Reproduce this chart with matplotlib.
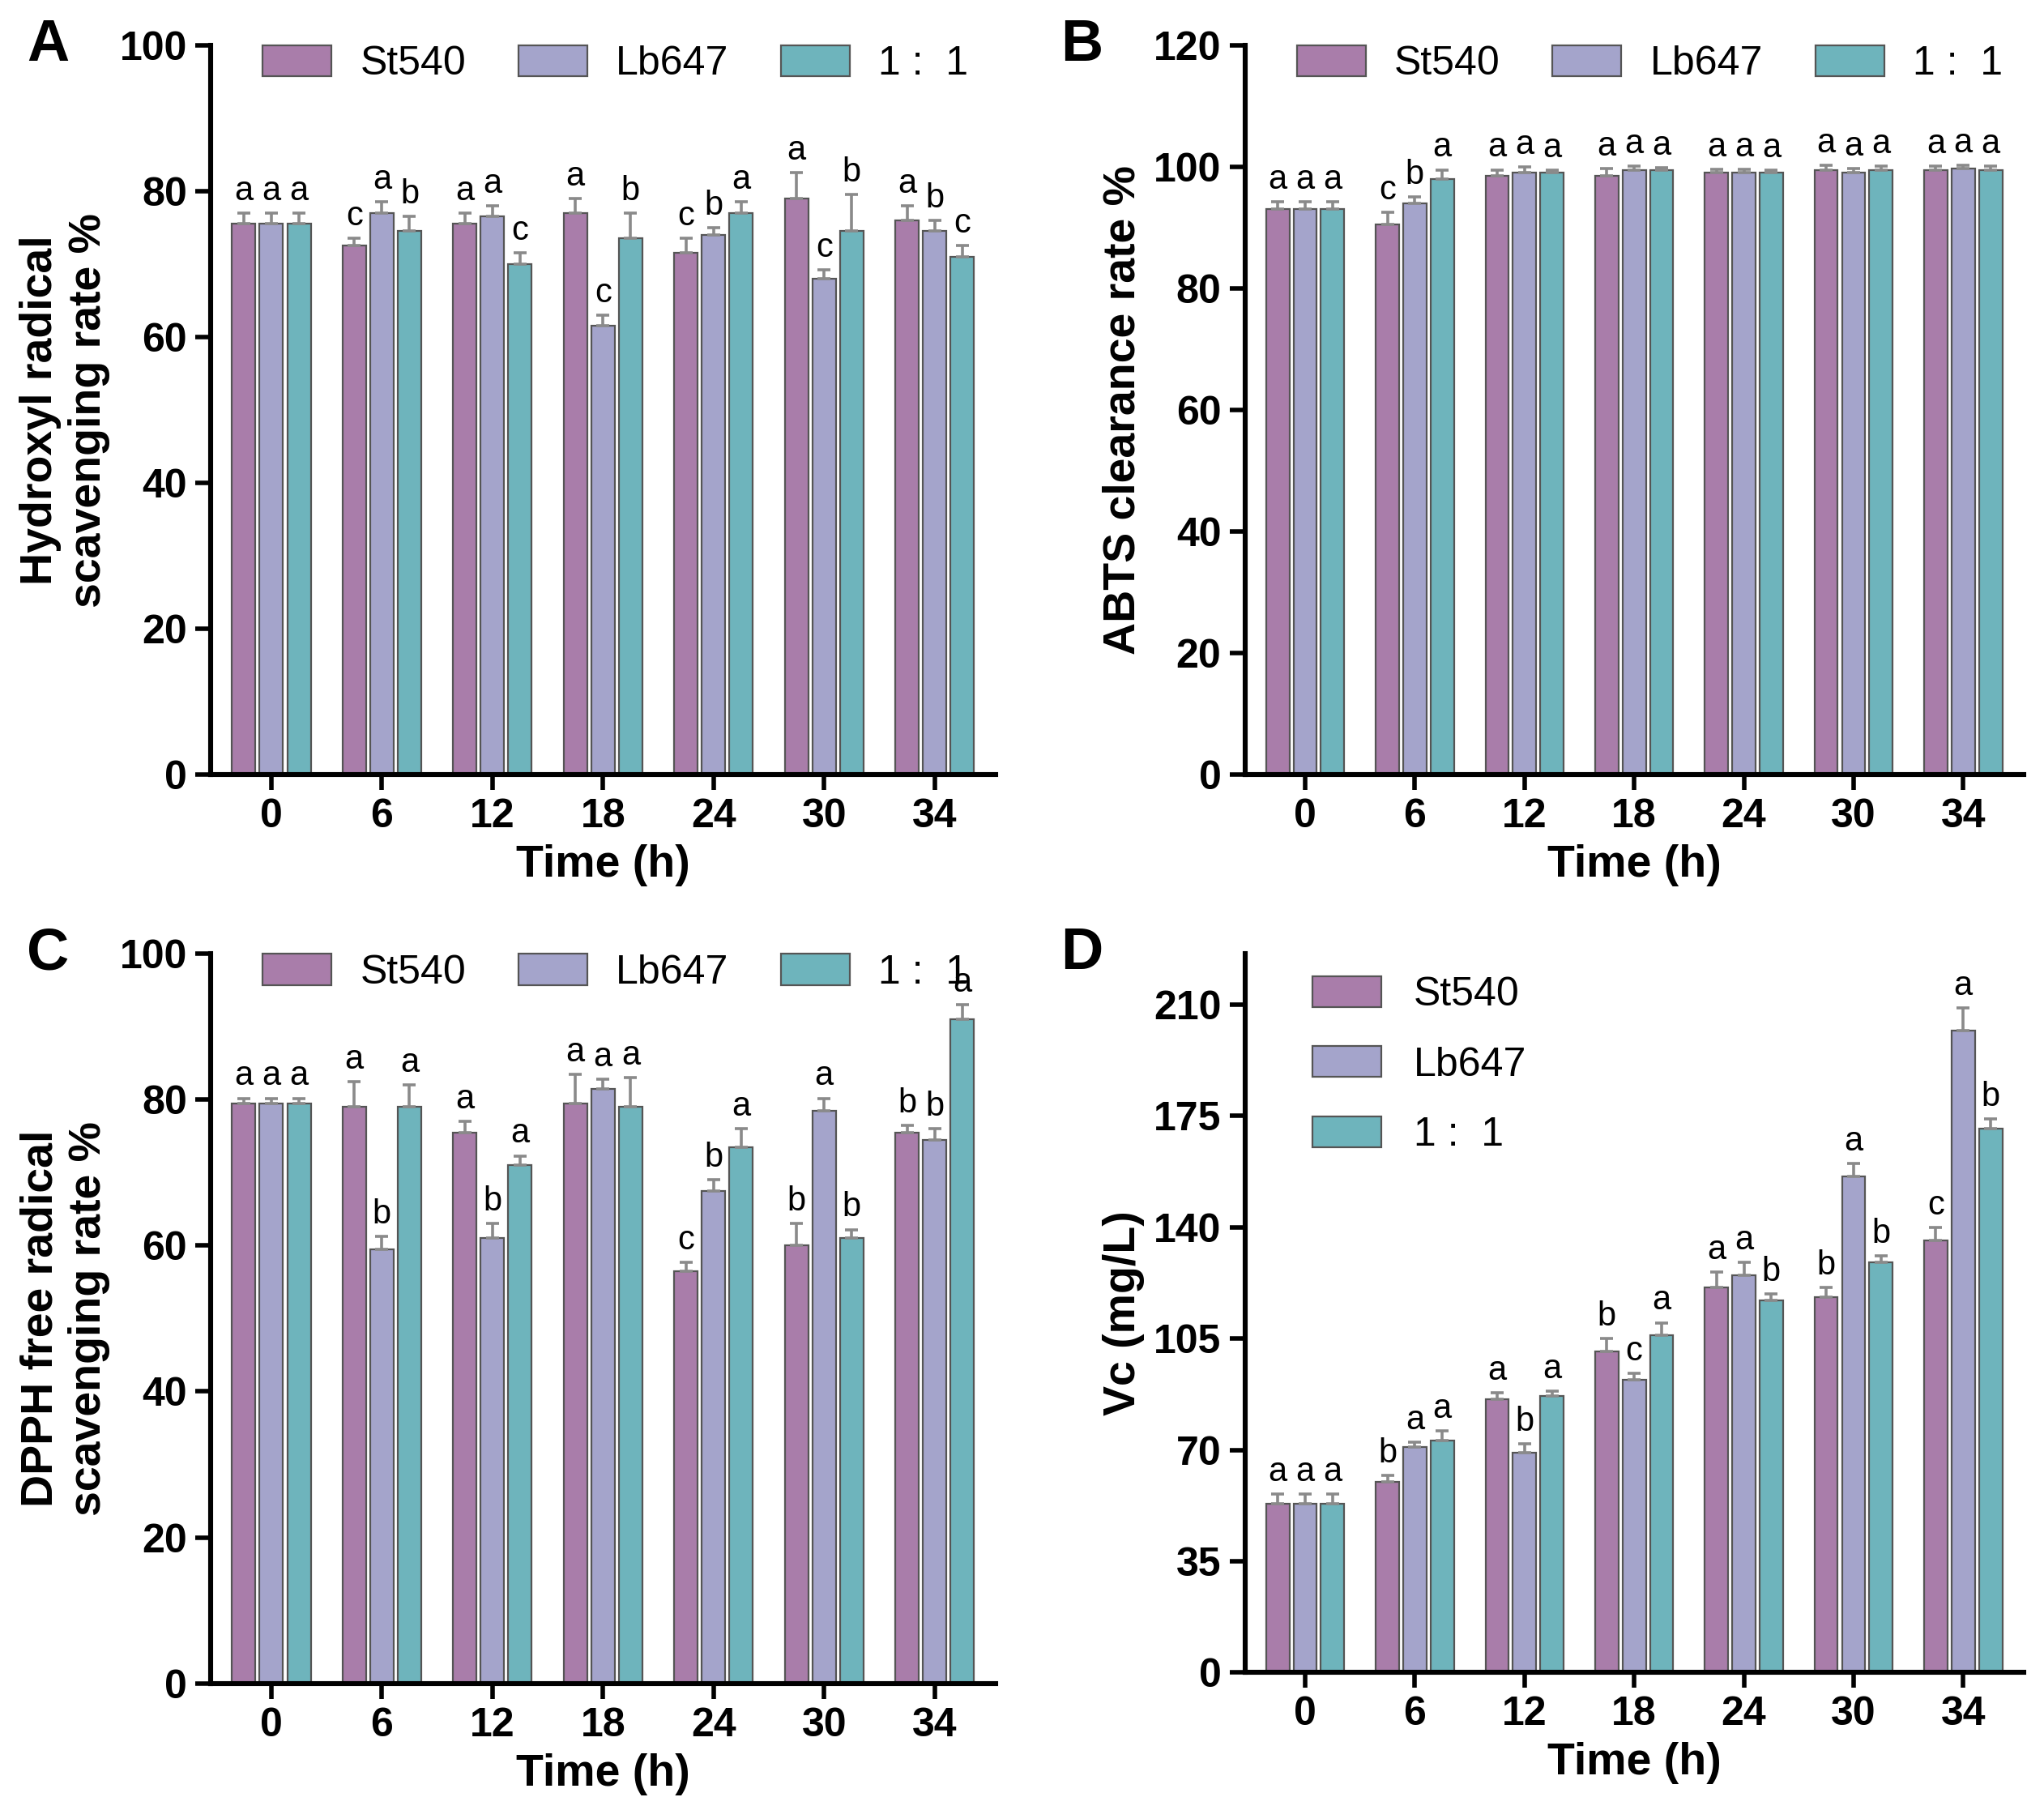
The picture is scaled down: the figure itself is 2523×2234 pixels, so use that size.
import matplotlib.pyplot as plt
import numpy as np

TIMES = ["0", "6", "12", "18", "24", "30", "34"]
SERIES = ["St540", "Lb647", "1 :  1"]
COLORS = ["#A97DAA", "#A4A4CB", "#6EB4BC"]

A_VALS = [[75.5, 72.5, 75.5, 77, 71.5, 79, 76],
          [75.5, 77, 76.5, 61.5, 74, 68, 74.5],
          [75.5, 74.5, 70, 73.5, 77, 74.5, 71]]
A_ERR = [[1.5, 1, 1.5, 2, 2, 3.5, 2],
         [1.5, 1.5, 1.5, 1.5, 1, 1.2, 1.5],
         [1.5, 2, 1.5, 3.5, 1.5, 5, 1.5]]
A_LET = [["a", "c", "a", "a", "c", "a", "a"],
         ["a", "a", "a", "c", "b", "c", "b"],
         ["a", "b", "c", "b", "a", "b", "c"]]

B_VALS = [[93, 90.5, 98.5, 98.5, 99, 99.5, 99.5],
          [93, 94, 99, 99.5, 99, 99, 99.7],
          [93, 98, 99, 99.5, 99, 99.5, 99.5]]
B_ERR = [[1.2, 2, 1, 1.2, 0.6, 0.7, 0.6],
         [1.2, 1, 1, 0.6, 0.6, 0.7, 0.5],
         [1.2, 1.5, 0.4, 0.3, 0.4, 0.6, 0.6]]
B_LET = [["a", "c", "a", "a", "a", "a", "a"],
         ["a", "b", "a", "a", "a", "a", "a"],
         ["a", "a", "a", "a", "a", "a", "a"]]

C_VALS = [[79.5, 79, 75.5, 79.5, 56.5, 60, 75.5],
          [79.5, 59.5, 61, 81.5, 67.5, 78.5, 74.5],
          [79.5, 79, 71, 79, 73.5, 61, 91]]
C_ERR = [[0.7, 3.5, 1.5, 4, 1.2, 3, 1],
         [0.7, 1.8, 2, 1.3, 1.5, 1.7, 1.5],
         [0.7, 3, 1.3, 4, 2.5, 1.2, 2]]
C_LET = [["a", "a", "a", "a", "c", "b", "b"],
         ["a", "b", "b", "a", "b", "a", "b"],
         ["a", "a", "a", "a", "a", "b", "a"]]

D_VALS = [[53, 60, 86, 101, 121, 118, 136],
          [53, 71, 69, 92, 125, 156, 202],
          [53, 73, 87, 106, 117, 129, 171]]
D_ERR = [[3, 2, 2, 4, 5, 3, 4],
         [3, 1.5, 3, 2, 4, 4, 7],
         [3, 3, 1.5, 4, 2, 2, 3]]
D_LET = [["a", "b", "a", "b", "a", "b", "c"],
         ["a", "a", "b", "c", "a", "a", "a"],
         ["a", "a", "a", "a", "b", "b", "b"]]

plt.rcParams.update({"font.family": "Liberation Sans", "font.size": 17,
                     "axes.linewidth": 2.2})

fig = plt.figure(figsize=(12.615, 11.17), dpi=200)


def panel(rect, label, vals, errs, lets, ylim, yticks, ylabel, legend_mode):
    ax = fig.add_axes(rect)
    x = np.arange(len(TIMES))
    w = 0.25
    span = ylim[1] - ylim[0]
    for i, (v, e, l) in enumerate(zip(vals, errs, lets)):
        xs = x + (i - 1) * w
        ax.bar(xs, v, width=w * 0.85, color=COLORS[i], edgecolor="#555555",
               linewidth=0.8, label=SERIES[i], zorder=2)
        ax.errorbar(xs, v, yerr=[np.zeros(len(v)), e], fmt="none",
                    ecolor="#8a8a8a", capsize=3, elinewidth=1.3, capthick=1.3, zorder=3)
        for xi, vi, ei, li in zip(xs, v, e, l):
            ax.text(xi, vi + ei + span * 0.008, li, ha="center", va="bottom",
                    fontsize=15, zorder=5)
    ax.set_xlim(-0.55, len(TIMES) - 0.45)
    ax.set_ylim(*ylim)
    ax.set_yticks(yticks)
    ax.set_xticks(x, TIMES)
    for t in ax.get_xticklabels() + ax.get_yticklabels():
        t.set_fontweight("bold")
        t.set_fontsize(18)
    ax.spines["top"].set_visible(False)
    ax.spines["right"].set_visible(False)
    ax.tick_params(width=2, length=7)
    ax.set_xlabel("Time (h)", fontsize=20, fontweight="bold")
    ax.set_ylabel(ylabel, fontsize=20, fontweight="bold")
    if legend_mode == "row":
        leg = ax.legend(ncol=3, loc="upper left", bbox_to_anchor=(0.02, 1.05), frameon=False,
                        fontsize=18, handlelength=1.7, handleheight=0.8,
                        columnspacing=1.3, handletextpad=0.7)
    else:
        leg = ax.legend(ncol=1, loc="upper left", bbox_to_anchor=(0.04, 1.02), frameon=False,
                        fontsize=18, handlelength=1.7, handleheight=0.8, labelspacing=0.8)
    leg.set_zorder(1)
    fig.text(rect[0] - 0.09, rect[1] + rect[3] + 0.0, label, fontsize=26,
             fontweight="bold", va="center")
    return ax


panel([0.103, 0.572, 0.384, 0.403], "A", A_VALS, A_ERR, A_LET, (0, 100),
      range(0, 101, 20), "Hydroxyl radical\nscavenging rate %", "row")
panel([0.609, 0.572, 0.381, 0.403], "B", B_VALS, B_ERR, B_LET, (0, 120),
      range(0, 121, 20), "ABTS clearance rate %", "row")
panel([0.103, 0.07, 0.384, 0.403], "C", C_VALS, C_ERR, C_LET, (0, 100),
      range(0, 101, 20), "DPPH free radical\nscavenging rate %", "row")
panel([0.609, 0.076, 0.381, 0.397], "D", D_VALS, D_ERR, D_LET, (0, 226),
      range(0, 211, 35), "Vc (mg/L)", "col")

fig.savefig("out.png")
